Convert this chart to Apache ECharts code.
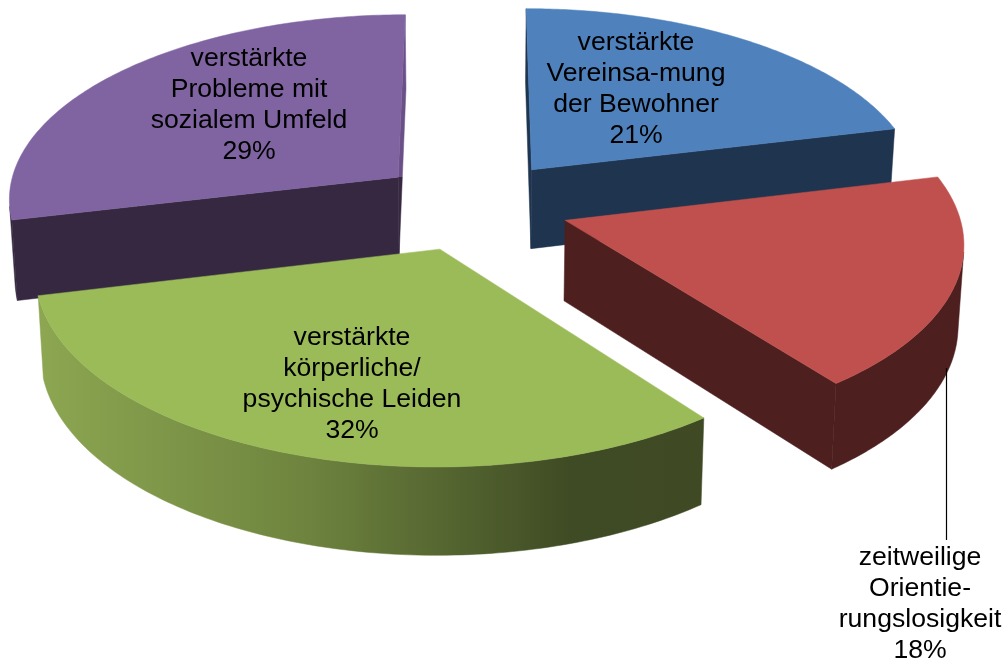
<!DOCTYPE html>
<html><head><meta charset="utf-8">
<style>html,body{margin:0;padding:0;background:#fff}#c{width:1005px;height:659px}</style>
<script src="https://cdn.jsdelivr.net/npm/echarts@6/dist/echarts.min.js"></script>
</head><body><div id="c"></div>
<script>
// data
const categories = ['verstärkte\nVereinsa-mung\nder Bewohner','zeitweilige\nOrientie-\nrungslosigkeit','verstärkte\nkörperliche/\npsychische Leiden','verstärkte\nProbleme mit\nsozialem Umfeld'];
const values = [21.2, 18.4, 31.65, 28.75];
// styles
const topColors = ['#4F81BD','#C0504D','#9BBB59','#8064A2'];
const sideColors = ['#1F354F','#4D1F1E',null,'#352840'];
const greenSideStops = [[40,'#8CA651'],[300,'#6F853F'],[570,'#3F4B24'],[705,'#3F4A24']];
const labelCenters = [[636,89.5],[920,604],[352,384],[249,105]];
// projection layout
const cx=473, cy=205, Rx=392, Ry=185, k=0.105, H=80, heightPersp=0.7, bottomScale=0.988, explode=0.247, fontSize=26.6, lineH=31;
const leader=[946.5,368,946.5,540];

const total=values.reduce((a,b)=>a+b,0);
function proj(X,Z,depth){
  const s=1/(1-k*Z);
  if(!depth) return [cx+Rx*X*s, cy+Ry*Z*s];
  return [cx+Rx*X*s*bottomScale, cy+Ry*Z*s+H*(1+heightPersp*(s-1))];
}
function shoelace(p){let a=0;for(let i=0;i<p.length;i++){const q=p[(i+1)%p.length];a+=p[i][0]*q[1]-q[0]*p[i][1];}return a;}
const slices=[];let acc=0;
values.forEach((v,i)=>{
  const a0=acc/total*2*Math.PI; acc+=v; const a1=acc/total*2*Math.PI; const m=(a0+a1)/2;
  slices.push({a0,a1,ax:explode*Math.sin(m),az:-explode*Math.cos(m)});
});
const order=slices.map((s,i)=>i).sort((a,b)=>slices[a].az-slices[b].az);

function renderItem(params,api){
  const i=api.value(0), s=slices[i], rank=order.indexOf(i)*10, kids=[];
  const side=i===2?new echarts.graphic.LinearGradient(greenSideStops[0][0],0,greenSideStops[3][0],0,
    greenSideStops.map(t=>({offset:(t[0]-greenSideStops[0][0])/(greenSideStops[3][0]-greenSideStops[0][0]),color:t[1]})),true):sideColors[i];
  const N=120, pts=[], bots=[];
  for(let j=0;j<=N;j++){
    const a=s.a0+(s.a1-s.a0)*j/N, X=s.ax+Math.sin(a), Z=s.az-Math.cos(a);
    pts.push(proj(X,Z,false)); bots.push(proj(X,Z,true));
  }
  const apex=proj(s.ax,s.az,false), apexB=proj(s.ax,s.az,true);
  const add=(p,fill,z)=>kids.push({type:'polygon',shape:{points:p},style:{fill,stroke:fill,lineWidth:0.5},z2:rank+z});
  // radial side walls
  const fs=[apex,pts[0],bots[0],apexB], fe=[apex,pts[N],bots[N],apexB];
  const solid=i===2?greenSideStops[0][1]:side;
  if(shoelace(fs)<0) add(fs,solid,1);
  if(shoelace(fe)>0){
    // the sliver of the purple wall that is seen beside the top face is lit above the apex
    const wall=i===3?new echarts.graphic.LinearGradient(0,pts[N][1],0,apexB[1],[
      {offset:0,color:'#6B5088'},{offset:(apex[1]-pts[N][1])/(apexB[1]-pts[N][1]),color:'#6B5088'},
      {offset:(apex[1]-pts[N][1])/(apexB[1]-pts[N][1]),color:solid},{offset:1,color:solid}],true):solid;
    add(fe,wall,1);
  }
  // curved rim: the visible run of segments
  let run=[];
  const flush=()=>{ if(run.length){const t=run.map(j=>pts[j]),b=run.map(j=>bots[j]).reverse();add(t.concat(b),side,2);run=[];} };
  for(let j=0;j<N;j++){
    const q=[pts[j],pts[j+1],bots[j+1],bots[j]];
    if(shoelace(q)<0){ if(!run.length)run.push(j); run.push(j+1);} else flush();
  }
  flush();
  add([apex].concat(pts),topColors[i],3);
  const c=labelCenters[i];
  kids.push({type:'text',x:c[0],y:c[1],z2:200,style:{text:categories[i]+'\n'+Math.round(values[i])+'%',
    fill:'#000',font:fontSize+'px "Liberation Sans", Arial, sans-serif',lineHeight:lineH,align:'center',verticalAlign:'middle'}});
  if(i===1) kids.push({type:'line',shape:{x1:leader[0],y1:leader[1],x2:leader[2],y2:leader[3]},style:{stroke:'#000',lineWidth:1.2},z2:150});
  return {type:'group',children:kids};
}
const chart=echarts.init(document.getElementById('c'),null,{renderer:'canvas',width:1005,height:659});
chart.setOption({
  animation:false,
  backgroundColor:'#fff',
  series:[{type:'custom',silent:true,clip:false,coordinateSystem:'none',renderItem,
    data:order.map(i=>[i,values[i]])}]
});
</script></body></html>
